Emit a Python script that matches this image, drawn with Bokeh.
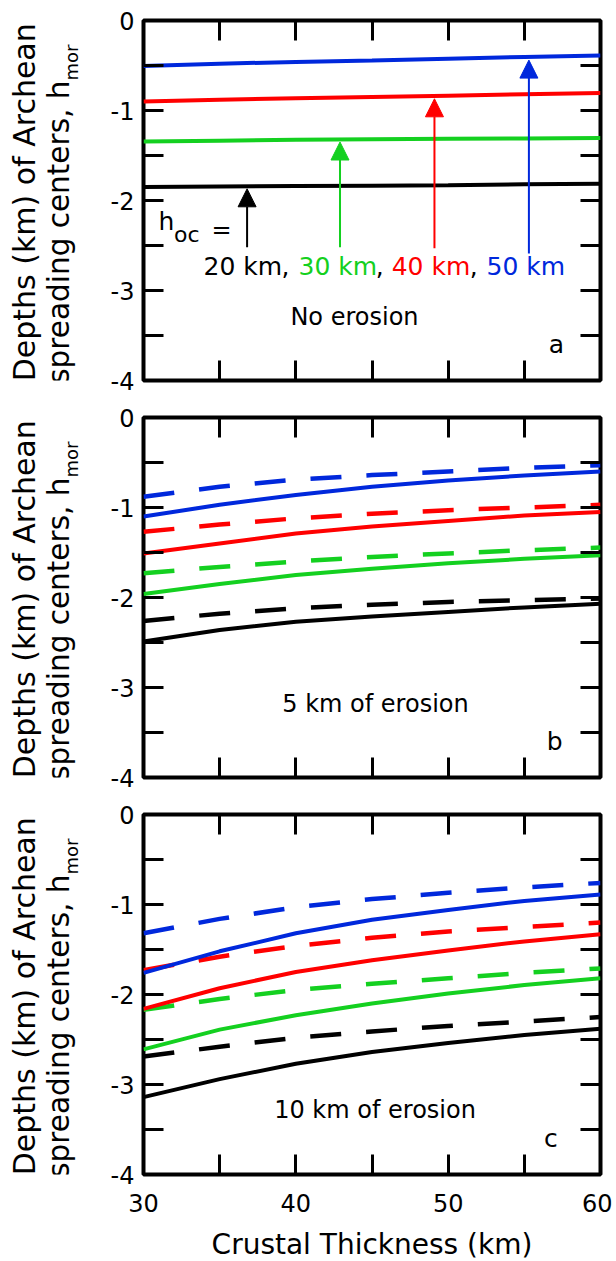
import math
from bokeh.plotting import figure
from bokeh.models import Range1d, FixedTicker, LinearAxis, Label, Arrow, NormalHead
from bokeh.layouts import column, row
from bokeh.embed import file_html
from bokeh.resources import INLINE

# ---------------- data ----------------
crust = [30, 35, 40, 45, 50, 55, 60]
hoc_names = ["20 km", "30 km", "40 km", "50 km"]
colors = ["#000000", "#14D020", "#FF0000", "#0028DC"]

x_ticks = [30, 40, 50, 60]
x_minor = [35, 45, 55]
x_tick_labels = ["30", "40", "50", "60"]
y_ticks = [-4, -3, -2, -1, 0]
y_minor = [-3.5, -2.5, -1.5, -0.5]
y_tick_labels = ["-4", "-3", "-2", "-1", "0"]

# panel a: no erosion (solid)
noero_20 = [-1.85, -1.845, -1.84, -1.835, -1.83, -1.82, -1.815]
noero_30 = [-1.345, -1.335, -1.325, -1.32, -1.315, -1.31, -1.305]
noero_40 = [-0.90, -0.88, -0.865, -0.85, -0.835, -0.82, -0.805]
noero_50 = [-0.505, -0.48, -0.46, -0.445, -0.425, -0.405, -0.39]

# panel b: 5 km of erosion
ero5_20 = [-2.49, -2.36, -2.27, -2.21, -2.16, -2.11, -2.07]
ero5_30 = [-1.96, -1.85, -1.75, -1.68, -1.62, -1.57, -1.53]
ero5_40 = [-1.51, -1.40, -1.29, -1.21, -1.15, -1.09, -1.05]
ero5_50 = [-1.10, -0.97, -0.86, -0.77, -0.70, -0.645, -0.60]
ero5_20_d = [-2.26, -2.18, -2.12, -2.08, -2.05, -2.03, -2.01]
ero5_30_d = [-1.73, -1.66, -1.60, -1.55, -1.51, -1.475, -1.445]
ero5_40_d = [-1.27, -1.19, -1.12, -1.07, -1.03, -1.00, -0.97]
ero5_50_d = [-0.88, -0.77, -0.69, -0.64, -0.60, -0.56, -0.53]

# panel c: 10 km of erosion
ero10_20 = [-3.14, -2.94, -2.77, -2.64, -2.54, -2.45, -2.38]
ero10_30 = [-2.61, -2.39, -2.23, -2.10, -1.99, -1.895, -1.82]
ero10_40 = [-2.16, -1.93, -1.75, -1.62, -1.51, -1.41, -1.33]
ero10_50 = [-1.76, -1.52, -1.32, -1.17, -1.06, -0.96, -0.89]
ero10_20_d = [-2.69, -2.58, -2.48, -2.41, -2.35, -2.30, -2.25]
ero10_30_d = [-2.17, -2.05, -1.95, -1.88, -1.82, -1.76, -1.71]
ero10_40_d = [-1.73, -1.58, -1.46, -1.37, -1.30, -1.25, -1.20]
ero10_50_d = [-1.32, -1.16, -1.03, -0.94, -0.87, -0.81, -0.76]

panel_notes = ["No erosion", "5 km of erosion", "10 km of erosion"]
panel_letters = ["a", "b", "c"]
ylabel_line1 = "Depths (km) of Archean"
ylabel_line2 = "spreading centers, h"
ylabel_sub = "mor"

# arrows in panel a (x position, tail depth, tip depth)
arrow_x = [36.8, 42.9, 49.1, 55.3]
arrow_tail = [-2.52, -2.52, -2.53, -2.59]
arrow_tip = [-1.87, -1.35, -0.87, -0.44]

FONT = "DejaVu Sans"
LABEL_W = 103


def style_axis(ax, ticks, minor, labels, show):
    ax.ticker = FixedTicker(ticks=ticks, minor_ticks=minor)
    ax.axis_line_color = None
    ax.major_tick_in = 20
    ax.major_tick_out = 0
    ax.minor_tick_in = 20
    ax.minor_tick_out = 0
    ax.major_tick_line_width = 3
    ax.minor_tick_line_width = 3
    ax.major_tick_line_color = "black"
    ax.minor_tick_line_color = "black"
    if show:
        ax.major_label_overrides = {t: l for t, l in zip(ticks, labels)}
        ax.major_label_text_font = FONT
        ax.major_label_text_font_size = "24px"
        ax.major_label_text_color = "black"
    else:
        ax.major_label_text_font_size = "1px"
        ax.major_label_text_color = None
        ax.major_label_standoff = 0


def add_text(p, x, y, text, color="black", size=24, align="left", angle=0.0):
    p.add_layout(Label(x=x, y=y, text=text, text_color=color, text_font=FONT,
                       text_font_size=f"{size}px", text_align=align,
                       text_baseline="alphabetic", angle=angle))


def borders(idx):
    top = 20 if idx == 0 else 12
    bottom = 87 if idx == 2 else 25
    return top, bottom


def make_label_fig(idx):
    top, bottom = borders(idx)
    f = figure(frame_width=LABEL_W, frame_height=360,
               x_range=Range1d(0, LABEL_W), y_range=Range1d(-4, 0),
               x_axis_type=None, y_axis_type=None,
               output_backend="svg", toolbar_location=None,
               min_border_left=0, min_border_right=0,
               min_border_top=top, min_border_bottom=bottom)
    f.outline_line_color = None
    f.background_fill_color = "white"
    f.border_fill_color = "white"
    add_text(f, 24, -2.02, ylabel_line1, size=30, align="center", angle=math.pi / 2)
    add_text(f, 58, -0.667, ylabel_line2, size=29.5, align="right", angle=math.pi / 2)
    add_text(f, 71, -0.667, ylabel_sub, size=18, align="left", angle=math.pi / 2)
    return f


def make_panel(solid, dashed, idx):
    bottom_panel = idx == 2
    top, bottom = borders(idx)
    p = figure(frame_width=457, frame_height=360,
               x_range=Range1d(30, 60), y_range=Range1d(-4, 0),
               x_axis_type=None, y_axis_type=None,
               output_backend="svg", toolbar_location=None,
               min_border_left=143 - LABEL_W, min_border_right=12,
               min_border_top=top, min_border_bottom=bottom)
    p.outline_line_color = "black"
    p.outline_line_width = 4
    p.background_fill_color = "white"
    p.border_fill_color = "white"

    left = LinearAxis()
    style_axis(left, y_ticks, y_minor, y_tick_labels, True)
    left.major_label_standoff = 9
    p.add_layout(left, "left")
    right = LinearAxis()
    style_axis(right, y_ticks, y_minor, y_tick_labels, False)
    p.add_layout(right, "right")
    top_ax = LinearAxis()
    style_axis(top_ax, x_ticks, x_minor, x_tick_labels, False)
    p.add_layout(top_ax, "above")
    below = LinearAxis()
    style_axis(below, x_ticks, x_minor, x_tick_labels, bottom_panel)
    if bottom_panel:
        below.major_label_standoff = 19
        below.axis_label = "Crustal Thickness (km)"
        below.axis_label_text_font = FONT
        below.axis_label_text_font_size = "28px"
        below.axis_label_text_font_style = "normal"
        below.axis_label_text_color = "black"
        below.axis_label_standoff = 13
    p.add_layout(below, "below")

    for ys, c in zip(dashed, colors):
        p.line(crust, ys, line_color=c, line_width=4.5, line_dash="31 25")
    for ys, c in zip(solid, colors):
        p.line(crust, ys, line_color=c, line_width=4)

    note_pos = [(43.85, -3.29), (45.23, -3.18), (45.2, -3.28)]
    letter_x = [57.1, 57.0, 56.75]
    nx, ny = note_pos[idx]
    add_text(p, nx, ny, panel_notes[idx], size=24, align="center")
    add_text(p, letter_x[idx], -3.60, panel_letters[idx], size=25, align="center")
    return p


pa = make_panel([noero_20, noero_30, noero_40, noero_50], [], 0)
pb = make_panel([ero5_20, ero5_30, ero5_40, ero5_50],
                [ero5_20_d, ero5_30_d, ero5_40_d, ero5_50_d], 1)
pc = make_panel([ero10_20, ero10_30, ero10_40, ero10_50],
                [ero10_20_d, ero10_30_d, ero10_40_d, ero10_50_d], 2)

# arrows and h_oc legend in panel a
for ax_, t0, t1, c in zip(arrow_x, arrow_tail, arrow_tip, colors):
    pa.add_layout(Arrow(end=NormalHead(size=18, fill_color=c, line_color=c, line_width=1),
                        x_start=ax_, y_start=t0, x_end=ax_, y_end=t1,
                        line_color=c, line_width=2))

add_text(pa, 30.985, -2.23, "h", size=25)
add_text(pa, 32.0, -2.38, "oc", size=22)
add_text(pa, 34.46, -2.33, "=", size=24)

row_x = [33.94, 40.18, 46.29, 52.52]
comma_x = [39.06, 45.24, 51.41]
for xx, name, c in zip(row_x, hoc_names, colors):
    add_text(pa, xx, -2.73, name, color=c, size=25)
for xx in comma_x:
    add_text(pa, xx, -2.73, ",", size=25)

layout = column(row(make_label_fig(0), pa),
                row(make_label_fig(1), pb),
                row(make_label_fig(2), pc))
open("out.html", "w").write(file_html(layout, INLINE))
